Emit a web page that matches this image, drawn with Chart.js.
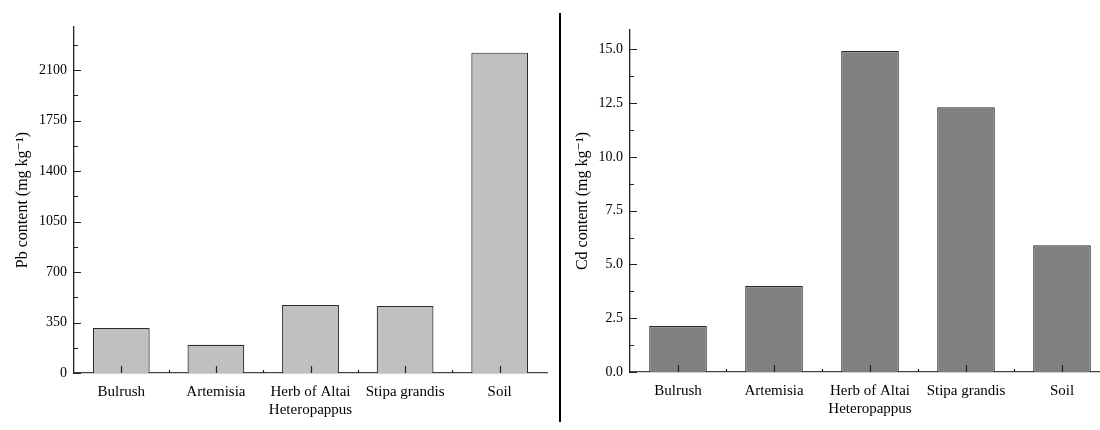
<!DOCTYPE html>
<html>
<head>
<meta charset="utf-8">
<script src="https://cdn.jsdelivr.net/npm/chart.js@4.4.1/dist/chart.umd.min.js"></script>
<style>
  html, body { margin:0; padding:0; background:#fff; overflow:hidden; width:1100px; height:430px; }
  .box { position:absolute; top:0; height:430px; }
  #leftBox { left:0; width:560px; }
  #rightBox { left:560px; width:560px; }
  #divider { position:absolute; left:559px; top:13px; width:2px; height:409px; background:#000; }
</style>
</head>
<body>
<div id="leftBox" class="box"><canvas id="pbCanvas"></canvas></div>
<div id="divider"></div>
<div id="rightBox" class="box"><canvas id="cdCanvas"></canvas></div>
<script>
// data
var categories = ['Bulrush', 'Artemisia', ['Herb of Altai', 'Heteropappus'], 'Stipa grandis', 'Soil'];
var pbValues = [313, 196, 472, 465, 2222];
var cdValues = [2.14, 4.0, 14.92, 12.31, 5.89];
var pbTicks = { max: 2400, major: 350, minor: 175 };
var cdTicks = { max: 15.9, major: 2.5, minor: 1.25 };

var serif = "'Liberation Serif', 'DejaVu Serif', serif";

// origin-style ticks pointing inward
var innerTicks = {
  id: 'innerTicks',
  afterDraw: function(chart){
    var ctx = chart.ctx;
    var xs = chart.scales.x, ys = chart.scales.y;
    var st = chart.options.plugins.innerTicks;
    ctx.save();
    ctx.strokeStyle = '#222';
    ctx.lineWidth = 1.2;
    ctx.beginPath();
    for (var v = 0; v <= st.max + 1e-9; v += st.minor) {
      var py = Math.round(ys.getPixelForValue(v)) + 0.5;
      var major = Math.abs(v / st.major - Math.round(v / st.major)) < 1e-6;
      ctx.moveTo(xs.left, py);
      ctx.lineTo(xs.left + (major ? 7 : 4), py);
    }
    var n = chart.data.labels.length;
    for (var i = 0; i < n; i++) {
      var cx = Math.round(xs.getPixelForValue(i)) + 0.5;
      ctx.moveTo(cx, xs.top);
      ctx.lineTo(cx, xs.top - 7);
      if (i < n - 1) {
        var bx = Math.round((xs.getPixelForValue(i) + xs.getPixelForValue(i + 1)) / 2) + 0.5;
        ctx.moveTo(bx, xs.top);
        ctx.lineTo(bx, xs.top - 3);
      }
    }
    ctx.stroke();
    ctx.restore();
  }
};

function makeChart(id, values, color, title, st, yWidth, padRight, padTop, padBottom, fmt){
  var ctx = document.getElementById(id).getContext('2d');
  return new Chart(ctx, {
    type: 'bar',
    data: {
      labels: categories,
      datasets: [{
        data: values,
        backgroundColor: color,
        borderColor: '#2a2a2a',
        borderWidth: 1.2,
        categoryPercentage: 1.0,
        barPercentage: 0.6
      }]
    },
    options: {
      responsive: true,
      maintainAspectRatio: false,
      animation: false,
      layout: { padding: { left: 0, right: padRight, top: padTop, bottom: padBottom } },
      plugins: {
        legend: { display: false },
        tooltip: { enabled: false },
        innerTicks: st
      },
      scales: {
        x: {
          grid: { display: false, drawTicks: false },
          border: { display: true, color: '#444', width: 1.3 },
          ticks: { color: '#000', padding: 10, maxRotation: 0, autoSkip: false,
                   font: { family: serif, size: 15 } }
        },
        y: {
          min: 0,
          max: st.max,
          afterFit: function(scale){ scale.width = yWidth; },
          grid: { display: false, drawTicks: false },
          border: { display: true, color: '#222', width: 1.3 },
          ticks: {
            stepSize: st.minor,
            autoSkip: false,
            padding: 7,
            color: '#000',
            font: { family: serif, size: 14 },
            callback: function(v){
              return Math.abs(v / st.major - Math.round(v / st.major)) < 1e-6 ? fmt(v) : '';
            }
          },
          title: {
            display: true,
            text: title,
            color: '#000',
            padding: { top: 13, bottom: 0 },
            font: { family: serif, size: 16 }
          }
        }
      }
    },
    plugins: [innerTicks]
  });
}

makeChart('pbCanvas', pbValues, '#c0c0c0', 'Pb content (mg kg\u207B\u00B9)', pbTicks, 74, 13, 27, 1,
  function(v){ return String(Math.round(v)); });
makeChart('cdCanvas', cdValues, '#808080', 'Cd content (mg kg\u207B\u00B9)', cdTicks, 70, 10, 30, 2,
  function(v){ return v.toFixed(1); });
</script>
</body>
</html>
